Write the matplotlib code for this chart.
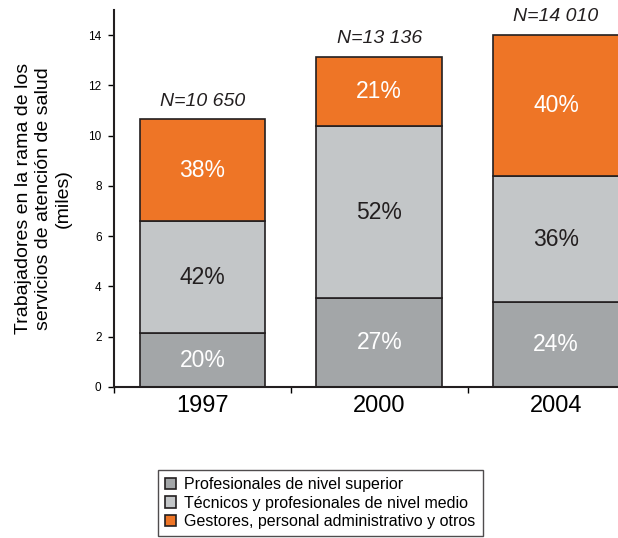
import numpy as np
import matplotlib.pyplot as plt

plt.rcParams['font.family'] = ['Liberation Sans', 'DejaVu Sans']

# datos (miles de trabajadores y porcentajes)
anios = ['1997', '2000', '2004']
totales = [10.650, 13.136, 14.010]
etiquetas_n = ['N=10 650', 'N=13 136', 'N=14 010']
pct_superior = [20, 27, 24]
pct_medio = [42, 52, 36]
pct_gestores = [38, 21, 40]

series = ['Profesionales de nivel superior',
          'Técnicos y profesionales de nivel medio',
          'Gestores, personal administrativo y otros']
colores = ['#a3a6a8', '#c3c6c8', '#ee7526']
color_txt = ['white', '#231f20', 'white']

tot = np.array(totales)
alturas = [tot * np.array(p) / 100 for p in (pct_superior, pct_medio, pct_gestores)]
pcts = [pct_superior, pct_medio, pct_gestores]

fig = plt.figure(figsize=(6.18, 5.38), dpi=100)
ax = fig.add_axes([0.1845, 0.2807, 0.8155, 0.7007])

x = np.arange(len(anios))
base = np.zeros(len(anios))
for h, p, c, tc, lab in zip(alturas, pcts, colores, color_txt, series):
    ax.bar(x, h, 0.71, bottom=base, color=c, edgecolor='#231f20', linewidth=1.2, label=lab)
    for xi, b, hi, pi in zip(x, base, h, p):
        ax.text(xi, b + hi / 2, f'{pi}%', ha='center', va='center', fontsize=16.5, color=tc)
    base = base + h

for xi, t, n in zip(x, totales, etiquetas_n):
    ax.text(xi, t + 0.38, n, ha='center', va='bottom', fontsize=14, style='italic', color='#231f20')

ax.set_xlim(-0.5, 2.35)
ax.set_ylim(0, 15)
ax.set_yticks(np.arange(0, 15, 2))
ax.tick_params(axis='y', labelsize=8.5, length=4, width=1, direction='out', pad=5)
ax.set_xticks(x)
ax.set_xticklabels(anios, fontsize=17)
ax.tick_params(axis='x', which='major', length=0, pad=6)
ax.set_xticks([-0.5, 0.5, 1.5], minor=True)
ax.tick_params(axis='x', which='minor', length=4, width=1, direction='out')

for s in ['top', 'right']:
    ax.spines[s].set_visible(False)
for s in ['left', 'bottom']:
    ax.spines[s].set_linewidth(1.5)
    ax.spines[s].set_color('#231f20')

ax.set_ylabel('Trabajadores en la rama de los\nservicios de atención de salud\n(miles)',
              fontsize=14, linespacing=1.2, labelpad=12)

leg = fig.legend(loc='lower left', bbox_to_anchor=(150 / 618, -6 / 538), fontsize=11.5,
                 frameon=True, fancybox=False, handlelength=0.7, handleheight=0.7,
                 handletextpad=0.5, labelspacing=0.2, borderpad=0.45)
leg.get_frame().set_edgecolor('#231f20')
leg.get_frame().set_linewidth(1.0)

fig.savefig('out.png', dpi=100)
